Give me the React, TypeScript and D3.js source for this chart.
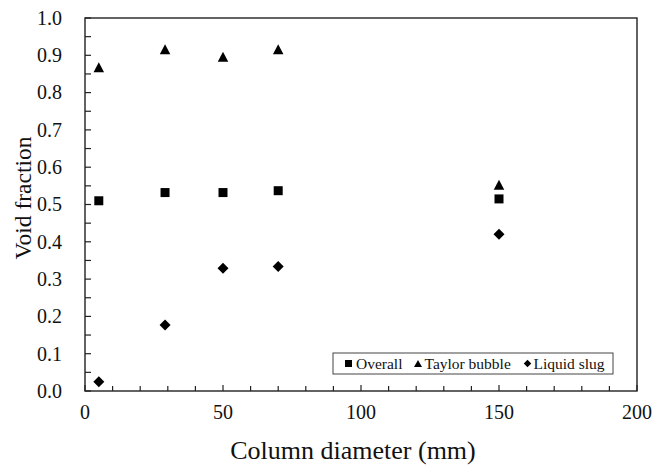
import React from "react";
import * as d3 from "d3";

const diameters = [5, 29, 50, 70, 150];
const overall = [0.51, 0.532, 0.532, 0.537, 0.515];
const taylorBubble = [0.868, 0.916, 0.896, 0.916, 0.553];
const liquidSlug = [0.025, 0.177, 0.329, 0.334, 0.42];
const xTicks = [0, 50, 100, 150, 200];
const yTicks = [0, 0.1, 0.2, 0.3, 0.4, 0.5, 0.6, 0.7, 0.8, 0.9, 1.0];
const legendLabels = ["Overall", "Taylor bubble", "Liquid slug"];

const W = 654;
const H = 465;
const M = { left: 85, right: 637, top: 18, bottom: 391 };
const FONT = "Liberation Serif, Times New Roman, Tinos, DejaVu Serif, serif";
const AXIS = "#222";
const TXT: React.CSSProperties = { fontFamily: FONT };

const x = d3.scaleLinear().domain([0, 200]).range([M.left, M.right]);
const y = d3.scaleLinear().domain([0, 1]).range([M.bottom, M.top]);

const square = (cx: number, cy: number, s: number) =>
  `M${cx - s / 2},${cy - s / 2}h${s}v${s}h${-s}Z`;
const triangle = (cx: number, cy: number, w: number, h: number) =>
  `M${cx},${cy - h / 2}L${cx + w / 2},${cy + h / 2}L${cx - w / 2},${cy + h / 2}Z`;
const diamond = (cx: number, cy: number, w: number, h: number) =>
  `M${cx},${cy - h / 2}L${cx + w / 2},${cy}L${cx},${cy + h / 2}L${cx - w / 2},${cy}Z`;

export default function App() {
  const xMinor = d3.range(0, 201, 10);
  const yMinor = d3.range(0, 1.0001, 0.05);
  const fmt = d3.format(".1f");
  return (
    <svg
      width={W}
      height={H}
      style={{ position: "absolute", left: 0, top: 0, background: "#fff", fontFamily: FONT }}
    >
      <rect x={0} y={0} width={W} height={H} fill="#fff" />
      {xMinor.map((v) => (
        <line
          key={"xt" + v}
          x1={x(v)}
          x2={x(v)}
          y1={M.bottom}
          y2={M.bottom - (v % 50 === 0 ? 6 : 5)}
          stroke={AXIS}
          strokeWidth={1.2}
        />
      ))}
      {yMinor.map((v) => (
        <line
          key={"yt" + v}
          x1={M.left}
          x2={M.left + 6}
          y1={y(v)}
          y2={y(v)}
          stroke={AXIS}
          strokeWidth={1.2}
        />
      ))}
      <rect
        x={M.left}
        y={M.top}
        width={M.right - M.left}
        height={M.bottom - M.top}
        fill="none"
        stroke={AXIS}
        strokeWidth={1.4}
      />
      {xTicks.map((v) => (
        <text key={"xl" + v} x={x(v)} y={419} fontSize={20} textAnchor="middle" fill="#111" style={TXT}>
          {v}
        </text>
      ))}
      {yTicks.map((v) => (
        <text key={"yl" + v} x={62} y={y(v) + 6.8} fontSize={20} textAnchor="end" fill="#111" style={TXT}>
          {fmt(v)}
        </text>
      ))}
      <text x={(M.left + M.right) / 2 - 8} y={459} fontSize={26} textAnchor="middle" fill="#111" style={TXT}>
        Column diameter (mm)
      </text>
      <text
        transform={`translate(31,${198}) rotate(-90)`}
        fontSize={23.5}
        textAnchor="middle"
        fill="#111"
        style={TXT}
      >
        Void fraction
      </text>
      {diameters.map((d, i) => (
        <path key={"o" + i} d={square(x(d), y(overall[i]), 9)} fill="#000" />
      ))}
      {diameters.map((d, i) => (
        <path key={"t" + i} d={triangle(x(d), y(taylorBubble[i]), 10.5, 10)} fill="#000" />
      ))}
      {diameters.map((d, i) => (
        <path key={"s" + i} d={diamond(x(d), y(liquidSlug[i]), 11, 11)} fill="#000" />
      ))}
      <rect x={333} y={353} width={280} height={21} fill="#fff" stroke="#444" strokeWidth={1} />
      <path d={square(348.5, 363.5, 7)} fill="#000" />
      <text x={356} y={369} fontSize={15.5} fill="#111" style={TXT}>{legendLabels[0]}</text>
      <path d={triangle(418, 363.5, 8, 7)} fill="#000" />
      <text x={424.5} y={369} fontSize={15.5} fill="#111" style={TXT}>{legendLabels[1]}</text>
      <path d={diamond(527.5, 363.5, 7.5, 7.5)} fill="#000" />
      <text x={533.5} y={369} fontSize={15.5} fill="#111" style={TXT}>{legendLabels[2]}</text>
    </svg>
  );
}
